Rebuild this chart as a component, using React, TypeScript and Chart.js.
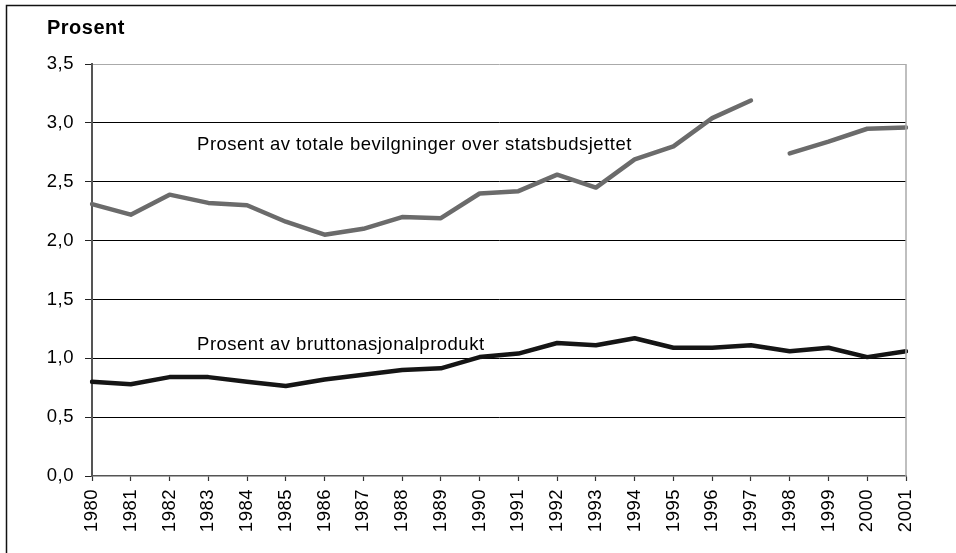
import React, { useEffect, useRef } from "react";
import { Chart, registerables } from "chart.js";

Chart.register(...registerables);

const years = [
  "1980", "1981", "1982", "1983", "1984", "1985", "1986", "1987", "1988", "1989", "1990",
  "1991", "1992", "1993", "1994", "1995", "1996", "1997", "1998", "1999", "2000", "2001",
];

const budgetShare = [
  2.31, 2.22, 2.39, 2.32, 2.3, 2.16, 2.05, 2.1, 2.2, 2.19, 2.4,
  2.42, 2.56, 2.45, 2.69, 2.8, 3.04, 3.19, 2.74, 2.84, 2.95, 2.96,
];

const gdpShare = [
  0.8, 0.78, 0.84, 0.84, 0.8, 0.765, 0.82, 0.86, 0.9, 0.915, 1.01,
  1.04, 1.13, 1.11, 1.17, 1.09, 1.09, 1.11, 1.06, 1.09, 1.01, 1.06,
];

// budget series is not connected between these two years
const budgetBreakAfter = "1997";

const yTicks = [0, 0.5, 1, 1.5, 2, 2.5, 3, 3.5];

const annotationTexts = [
  "Prosent av totale bevilgninger over statsbudsjettet",
  "Prosent av bruttonasjonalprodukt",
];
const annotationX = [2.71, 2.71];
const annotationY = [2.77, 1.07];

const yTitle = "Prosent";

const FONT = "'Liberation Sans', Arial, sans-serif";
const SPACING = "0.5px";

export default function App() {
  const ref = useRef<HTMLCanvasElement | null>(null);

  useEffect(() => {
    if (!ref.current) return;
    const breakIdx = years.indexOf(budgetBreakAfter);

    const setSpacing = (chart: any) => {
      try {
        (chart.ctx as any).letterSpacing = SPACING;
      } catch (e) {}
    };

    const deco = {
      id: "deco",
      beforeUpdate: setSpacing,
      beforeLayout: setSpacing,
      beforeDraw: (chart: any) => {
        setSpacing(chart);
        const ctx = chart.ctx;
        ctx.save();
        ctx.fillStyle = "#ffffff";
        ctx.fillRect(0, 0, chart.width, chart.height);
        // outer frame (left + top)
        ctx.strokeStyle = "#111111";
        ctx.lineWidth = 1.5;
        ctx.beginPath();
        ctx.moveTo(6.5, chart.height);
        ctx.lineTo(6.5, 5.5);
        ctx.lineTo(chart.width, 5.5);
        ctx.stroke();
        ctx.restore();
      },
      afterDatasetsDraw: (chart: any) => {
        const ctx = chart.ctx;
        const area = chart.chartArea;
        const xs = chart.scales.x;
        const ys = chart.scales.y;
        ctx.save();
        (ctx as any).letterSpacing = SPACING;
        // right border of plot area
        ctx.strokeStyle = "#aaaaaa";
        ctx.lineWidth = 1.5;
        ctx.beginPath();
        ctx.moveTo(area.right, area.top);
        ctx.lineTo(area.right, area.bottom);
        ctx.stroke();
        // annotations
        ctx.fillStyle = "#000000";
        ctx.font = `18.5px ${FONT}`;
        ctx.textAlign = "left";
        ctx.textBaseline = "alphabetic";
        annotationTexts.forEach((t, i) => {
          ctx.fillText(t, xs.getPixelForValue(annotationX[i]), ys.getPixelForValue(annotationY[i]));
        });
        // axis title
        ctx.font = `bold 20px ${FONT}`;
        ctx.fillText(yTitle, 47, 33.5);
        ctx.restore();
      },
    };

    const chart = new Chart(ref.current, {
      type: "line",
      data: {
        labels: years,
        datasets: [
          {
            label: annotationTexts[0],
            data: budgetShare,
            borderColor: "#6b6b6b",
            borderWidth: 4.5,
            pointRadius: 0,
            tension: 0,
            borderCapStyle: "round",
            borderJoinStyle: "round",
            segment: {
              borderColor: (c: any) => (c.p0DataIndex === breakIdx ? "rgba(0,0,0,0)" : undefined),
            },
          } as any,
          {
            label: annotationTexts[1],
            data: gdpShare,
            borderColor: "#151515",
            borderWidth: 4.5,
            pointRadius: 0,
            tension: 0,
            borderCapStyle: "round",
            borderJoinStyle: "round",
          } as any,
        ],
      },
      options: {
        responsive: false,
        animation: false,
        events: [],
        layout: { padding: { top: 64, right: 50, left: 0, bottom: 0 } },
        plugins: {
          legend: { display: false },
          tooltip: { enabled: false },
          title: { display: false },
        },
        scales: {
          x: {
            type: "category",
            offset: false,
            afterFit: (s: any) => {
              s.height = 77;
            },
            grid: {
              display: true,
              drawOnChartArea: false,
              drawTicks: true,
              tickLength: 5,
              tickColor: "#333333",
              tickWidth: 1.2,
            },
            border: { display: true, color: "#555555", width: 1.5 },
            ticks: {
              autoSkip: false,
              maxRotation: 90,
              minRotation: 90,
              padding: 8,
              color: "#000000",
              font: { family: FONT, size: 18.5 },
            },
          },
          y: {
            min: 0,
            max: 3.5,
            afterFit: (s: any) => {
              s.width = 92;
            },
            afterBuildTicks: (s: any) => {
              s.ticks = yTicks.map((v) => ({ value: v }));
            },
            grid: {
              drawTicks: true,
              tickLength: 7,
              tickColor: "#222222",
              lineWidth: 1,
              color: (c: any) => {
                const v = c.tick ? c.tick.value : 0;
                if (v === 0) return "rgba(0,0,0,0)";
                if (v === 3.5) return "#aaaaaa";
                return "#000000";
              },
            },
            border: { display: true, color: "#555555", width: 2 },
            ticks: {
              padding: 11,
              color: "#000000",
              font: { family: FONT, size: 18.5 },
              callback: (v: any) => Number(v).toFixed(1).replace(".", ","),
            },
          },
        },
      },
      plugins: [deco],
    });

    return () => chart.destroy();
  }, []);

  return (
    <div style={{ position: "absolute", left: 0, top: 0, width: 956, height: 553, background: "#fff" }}>
      <canvas ref={ref} width={956} height={553} style={{ display: "block", width: 956, height: 553 }} />
    </div>
  );
}
